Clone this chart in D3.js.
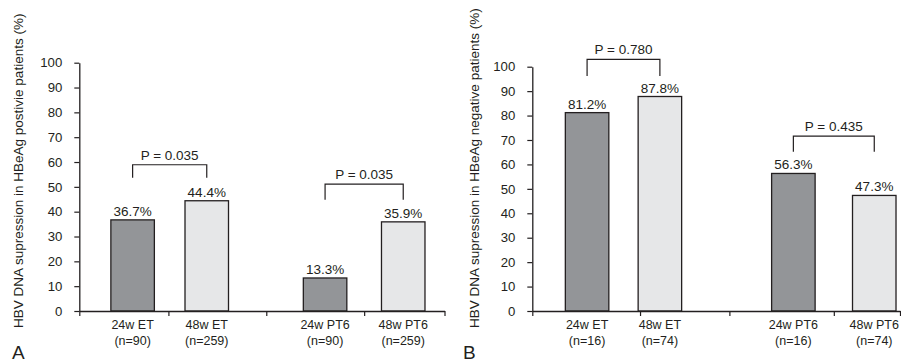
<!DOCTYPE html>
<html>
<head>
<meta charset="utf-8">
<script src="https://cdn.jsdelivr.net/npm/d3@7"></script>
<style>
  body { margin: 0; background: #fff; }
  svg { display: block; font-family: Arial, "Liberation Sans", Helvetica, sans-serif; }
</style>
</head>
<body>
<div id="chart-area"></div>
<script>
// chart data
const categories = ["24w ET", "48w ET", "24w PT6", "48w PT6"];
const sizesA = ["(n=90)", "(n=259)", "(n=90)", "(n=259)"];
const sizesB = ["(n=16)", "(n=74)", "(n=16)", "(n=74)"];
const valuesA = [36.7, 44.4, 13.3, 35.9];
const valuesB = [81.2, 87.8, 56.3, 47.3];
const pLabelsA = ["P = 0.035", "P = 0.035"];
const pLabelsB = ["P = 0.780", "P = 0.435"];
const yTicks = [0, 10, 20, 30, 40, 50, 60, 70, 80, 90, 100];
const yTitleA = "HBV DNA supression in HBeAg postivie patients (%)";
const yTitleB = "HBV DNA supression in HBeAg negative patients (%)";

const width = 901, height = 363;
const textColor = "#231f20";
const barFill = ["#939598", "#e6e7e8", "#939598", "#e6e7e8"];
const barWidth = 43.5;

const svg = d3.select("#chart-area")
  .append("svg")
  .attr("width", width)
  .attr("height", height);

// layout for each panel (fractions of the x axis length, bracket heights in %)
const panels = [
  {
    letter: "A", letterX: 12, title: yTitleA, titleX: 23,
    values: valuesA, sizes: sizesA, pLabels: pLabelsA,
    x0: 79.3, x1: 444.5, yTop: 62.7, yZero: 311,
    centers: [0.146, 0.349, 0.673, 0.887],
    ticks: [0, 0.244, 0.512, 0.780, 1],
    brackets: [{ top: 58.9, foot: 53.7 }, { top: 51.1, foot: 44.8 }]
  },
  {
    letter: "B", letterX: 463, title: yTitleB, titleX: 479,
    values: valuesB, sizes: sizesB, pLabels: pLabelsB,
    x0: 532.3, x1: 900, yTop: 66.7, yZero: 311,
    centers: [0.149, 0.347, 0.710, 0.930],
    ticks: [0, 0.293, 0.536, 0.820, 1],
    brackets: [{ top: 103.0, foot: 96.2 }, { top: 71.6, foot: 65.2 }]
  }
];

panels.forEach(drawPanel);

/**
 * Draws one bar panel: axes, bars, value labels, P brackets
 */
function drawPanel(p) {
  const g = svg.append("g");

  const x = d3.scaleLinear().domain([0, 1]).range([p.x0, p.x1]);
  const y = d3.scaleLinear().domain([0, 100]).range([p.yZero, p.yTop]);

  // bars
  g.selectAll("rect.bar")
    .data(p.values)
    .enter()
    .append("rect")
    .attr("class", "bar")
    .attr("x", (d, i) => x(p.centers[i]) - barWidth / 2)
    .attr("width", barWidth)
    .attr("y", d => y(d))
    .attr("height", d => y(0) - y(d))
    .attr("fill", (d, i) => barFill[i])
    .attr("stroke", textColor)
    .attr("stroke-width", 1.3);

  // y axis
  const yAxis = g.append("g")
    .attr("transform", `translate(${p.x0},0)`)
    .call(d3.axisLeft(y).tickValues(yTicks).tickSize(5).tickSizeOuter(0).tickPadding(12));
  yAxis.select(".domain").attr("stroke", textColor).attr("stroke-width", 1.3);
  yAxis.selectAll(".tick line").attr("stroke", textColor).attr("stroke-width", 1.2);
  yAxis.selectAll(".tick text")
    .attr("fill", textColor)
    .style("font-size", "13.2px");

  // x axis (category boundaries only)
  const xAxis = g.append("g")
    .attr("transform", `translate(0,${p.yZero})`)
    .call(d3.axisBottom(x).tickValues(p.ticks).tickSize(5).tickSizeOuter(0).tickFormat(""));
  xAxis.select(".domain").attr("stroke", textColor).attr("stroke-width", 1.3);
  xAxis.selectAll(".tick line").attr("stroke", textColor).attr("stroke-width", 1.2);

  // category labels
  g.selectAll("text.cat")
    .data(categories)
    .enter()
    .append("text")
    .attr("class", "cat")
    .attr("x", (d, i) => x(p.centers[i]))
    .attr("y", p.yZero + 18)
    .attr("text-anchor", "middle")
    .attr("fill", textColor)
    .style("font-size", "12.5px")
    .text(d => d);

  g.selectAll("text.size")
    .data(p.sizes)
    .enter()
    .append("text")
    .attr("class", "size")
    .attr("x", (d, i) => x(p.centers[i]))
    .attr("y", p.yZero + 34)
    .attr("text-anchor", "middle")
    .attr("fill", textColor)
    .style("font-size", "12.5px")
    .text(d => d);

  // value labels
  g.selectAll("text.val")
    .data(p.values)
    .enter()
    .append("text")
    .attr("class", "val")
    .attr("x", (d, i) => x(p.centers[i]))
    .attr("y", d => y(d) - 4)
    .attr("text-anchor", "middle")
    .attr("fill", textColor)
    .style("font-size", "13.5px")
    .text(d => d.toFixed(1) + "%");

  // P brackets between each pair of bars
  p.brackets.forEach((b, k) => {
    const xa = x(p.centers[k * 2]);
    const xb = x(p.centers[k * 2 + 1]);
    g.append("path")
      .attr("d", `M${xa},${y(b.foot)}V${y(b.top)}H${xb}V${y(b.foot)}`)
      .attr("fill", "none")
      .attr("stroke", textColor)
      .attr("stroke-width", 1.2);
    g.append("text")
      .attr("x", (xa + xb) / 2)
      .attr("y", y(b.top) - 5)
      .attr("text-anchor", "middle")
      .attr("fill", textColor)
      .style("font-size", "13.5px")
      .text(p.pLabels[k]);
  });

  // y axis title
  g.append("text")
    .attr("transform", `translate(${p.titleX},328) rotate(-90)`)
    .attr("text-anchor", "start")
    .attr("fill", textColor)
    .style("font-size", "13.5px")
    .text(p.title);

  // panel letter
  g.append("text")
    .attr("x", p.letterX)
    .attr("y", 359)
    .attr("fill", textColor)
    .style("font-size", "19px")
    .text(p.letter);
}
</script>
</body>
</html>
